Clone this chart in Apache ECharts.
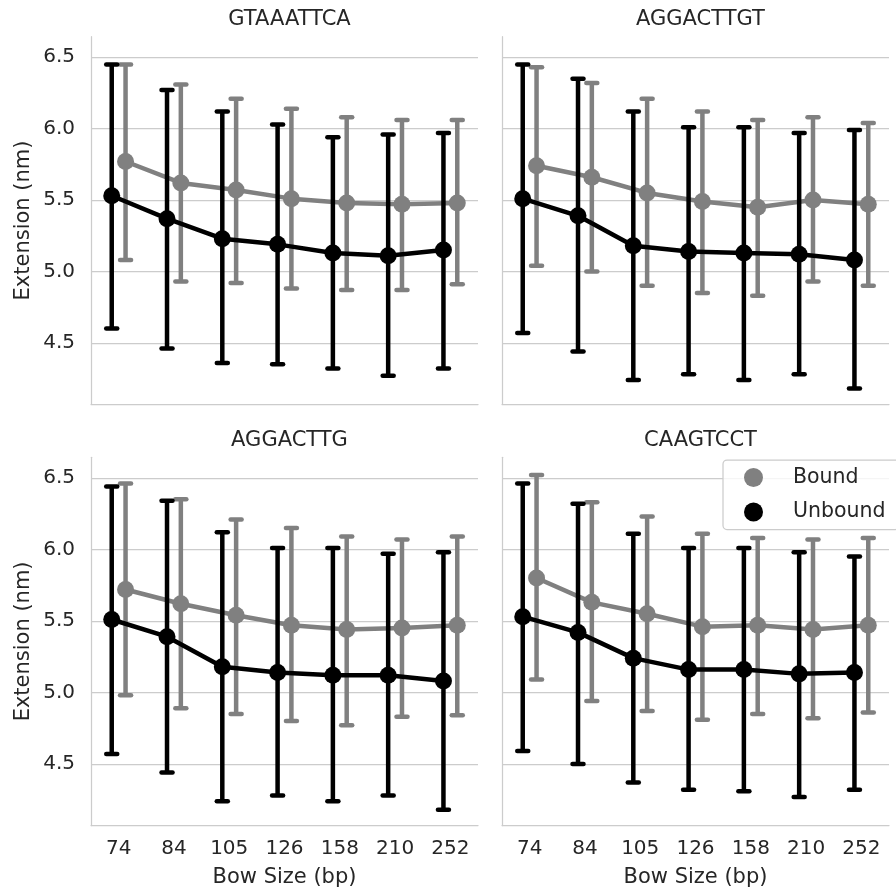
<!DOCTYPE html>
<html>
<head>
<meta charset="utf-8">
<script src="https://cdn.jsdelivr.net/npm/echarts@6/dist/echarts.min.js"></script>
<style>
html,body{margin:0;padding:0;background:#fff;}
#chart{width:896px;height:895px;}
</style>
</head>
<body>
<div id="chart"></div>
<script>
// ---- Data ----
const categories = ['74', '84', '105', '126', '158', '210', '252'];
const panelTitles = ['GTAAATTCA', 'AGGACTTGT', 'AGGACTTG', 'CAAGTCCT'];
const yTicks = [4.5, 5.0, 5.5, 6.0, 6.5];

// GTAAATTCA
const boundMean1   = [5.77, 5.62, 5.57, 5.51, 5.48, 5.47, 5.48];
const boundLow1    = [5.08, 4.93, 4.92, 4.88, 4.87, 4.87, 4.91];
const boundHigh1   = [6.45, 6.31, 6.21, 6.14, 6.08, 6.06, 6.06];
const unboundMean1 = [5.53, 5.37, 5.23, 5.19, 5.13, 5.11, 5.15];
const unboundLow1  = [4.60, 4.46, 4.36, 4.35, 4.32, 4.27, 4.32];
const unboundHigh1 = [6.45, 6.27, 6.12, 6.03, 5.94, 5.96, 5.97];

// AGGACTTGT
const boundMean2   = [5.74, 5.66, 5.55, 5.49, 5.45, 5.50, 5.47];
const boundLow2    = [5.04, 5.00, 4.90, 4.85, 4.83, 4.93, 4.90];
const boundHigh2   = [6.43, 6.32, 6.21, 6.12, 6.06, 6.08, 6.04];
const unboundMean2 = [5.51, 5.39, 5.18, 5.14, 5.13, 5.12, 5.08];
const unboundLow2  = [4.57, 4.44, 4.24, 4.28, 4.24, 4.28, 4.18];
const unboundHigh2 = [6.45, 6.35, 6.12, 6.01, 6.01, 5.97, 5.99];

// AGGACTTG
const boundMean3   = [5.72, 5.62, 5.54, 5.47, 5.44, 5.45, 5.47];
const boundLow3    = [4.98, 4.89, 4.85, 4.80, 4.77, 4.83, 4.84];
const boundHigh3   = [6.46, 6.35, 6.21, 6.15, 6.09, 6.07, 6.09];
const unboundMean3 = [5.51, 5.39, 5.18, 5.14, 5.12, 5.12, 5.08];
const unboundLow3  = [4.57, 4.44, 4.24, 4.28, 4.24, 4.28, 4.18];
const unboundHigh3 = [6.44, 6.34, 6.12, 6.01, 6.01, 5.97, 5.98];

// CAAGTCCT
const boundMean4   = [5.80, 5.63, 5.55, 5.46, 5.47, 5.44, 5.47];
const boundLow4    = [5.09, 4.94, 4.87, 4.81, 4.85, 4.82, 4.86];
const boundHigh4   = [6.52, 6.33, 6.23, 6.11, 6.08, 6.07, 6.08];
const unboundMean4 = [5.53, 5.42, 5.24, 5.16, 5.16, 5.13, 5.14];
const unboundLow4  = [4.59, 4.50, 4.37, 4.32, 4.31, 4.27, 4.32];
const unboundHigh4 = [6.46, 6.32, 6.11, 6.01, 6.01, 5.98, 5.95];

const panelData = [
  {bm: boundMean1, bl: boundLow1, bh: boundHigh1, um: unboundMean1, ul: unboundLow1, uh: unboundHigh1},
  {bm: boundMean2, bl: boundLow2, bh: boundHigh2, um: unboundMean2, ul: unboundLow2, uh: unboundHigh2},
  {bm: boundMean3, bl: boundLow3, bh: boundHigh3, um: unboundMean3, ul: unboundLow3, uh: unboundHigh3},
  {bm: boundMean4, bl: boundLow4, bh: boundHigh4, um: unboundMean4, ul: unboundLow4, uh: unboundHigh4}
];

// ---- Styling / layout ----
const GRAY = '#808080', BLACK = '#000000', TEXT = '#262626', LINE = '#cccccc';
const FONT = 'DejaVu Sans';
const DODGE = 0.125;
const grids = [
  {left: 91,  top: 36.7,  width: 387, height: 367.6},
  {left: 502, top: 36.7,  width: 387, height: 367.6},
  {left: 91,  top: 457.3, width: 387, height: 368.2},
  {left: 502, top: 457.3, width: 387, height: 368.2}
];

function renderErr(params, api) {
  const x = api.value(0), lo = api.value(1), hi = api.value(2);
  const p1 = api.coord([x, lo]), p2 = api.coord([x, hi]);
  const hw = 5.5;
  const style = {stroke: api.visual('color'), lineWidth: 4.5, lineCap: 'round'};
  return {type: 'group', children: [
    {type: 'line', shape: {x1: p1[0], y1: p1[1], x2: p2[0], y2: p2[1]}, style: Object.assign({}, style, {lineCap: 'butt'})},
    {type: 'line', shape: {x1: p1[0] - hw, y1: p1[1], x2: p1[0] + hw, y2: p1[1]}, style: style},
    {type: 'line', shape: {x1: p2[0] - hw, y1: p2[1], x2: p2[0] + hw, y2: p2[1]}, style: style}
  ]};
}

const xAxes = [], yAxes = [], series = [], titles = [];
grids.forEach((g, k) => {
  const bottomRow = k >= 2, leftCol = (k % 2 === 0);
  xAxes.push({
    type: 'category', gridIndex: k, data: categories, boundaryGap: true,
    axisLine: {show: true, onZero: false, lineStyle: {color: LINE, width: 1.25}},
    axisTick: {show: false},
    axisLabel: {show: bottomRow, color: TEXT, fontSize: 20, fontFamily: FONT, margin: 13},
    splitLine: {show: false},
    name: bottomRow ? 'Bow Size (bp)' : '', nameLocation: 'middle', nameGap: 42,
    nameTextStyle: {color: TEXT, fontSize: 21, fontFamily: FONT}
  });
  xAxes.push({
    type: 'value', gridIndex: k, min: -0.5, max: 6.5, show: false,
    axisLine: {onZero: false},
    splitLine: {show: false}
  });
  yAxes.push({
    type: 'value', gridIndex: k, min: 4.07, max: 6.644,
    axisLine: {show: true, onZero: false, lineStyle: {color: LINE, width: 1.25}},
    axisTick: {show: false, customValues: yTicks},
    axisLabel: {show: leftCol, customValues: yTicks, color: TEXT, fontSize: 20, fontFamily: FONT, margin: 16,
      formatter: v => v.toFixed(1)},
    splitLine: {show: true, lineStyle: {color: LINE, width: 1.25}},
    name: leftCol ? 'Extension (nm)' : '', nameLocation: 'middle', nameGap: 57,
    nameTextStyle: {color: TEXT, fontSize: 21, fontFamily: FONT}
  });
  titles.push({
    text: panelTitles[k], left: g.left + g.width / 2, top: g.top - 32.5, textAlign: 'center',
    textStyle: {color: TEXT, fontSize: 21, fontWeight: 'normal', fontFamily: FONT}
  });

  const d = panelData[k];
  const levels = [
    {name: 'Bound', color: GRAY, mean: d.bm, lo: d.bl, hi: d.bh, off: DODGE, z: 2},
    {name: 'Unbound', color: BLACK, mean: d.um, lo: d.ul, hi: d.uh, off: -DODGE, z: 4}
  ];
  levels.forEach(L => {
    series.push({
      type: 'line', name: L.name, xAxisIndex: 2 * k + 1, yAxisIndex: k,
      data: L.mean.map((v, i) => [i + L.off, v]),
      symbol: 'circle', symbolSize: 17, showSymbol: true,
      itemStyle: {color: L.color}, lineStyle: {color: L.color, width: 4.5},
      z: L.z, animation: false, silent: true
    });
    series.push({
      type: 'custom', name: L.name + ' CI', xAxisIndex: 2 * k + 1, yAxisIndex: k,
      data: L.lo.map((v, i) => [i + L.off, v, L.hi[i]]),
      encode: {x: 0, y: [1, 2]},
      itemStyle: {color: L.color}, renderItem: renderErr,
      z: L.z, animation: false, silent: true
    });
  });
});

const chart = echarts.init(document.getElementById('chart'), null, {renderer: 'canvas'});
chart.setOption({
  backgroundColor: '#ffffff',
  animation: false,
  textStyle: {fontFamily: FONT},
  title: titles,
  grid: grids,
  xAxis: xAxes,
  yAxis: yAxes,
  legend: {
    data: ['Bound', 'Unbound'], orient: 'vertical', left: 723, top: 460,
    icon: 'circle', itemWidth: 19, itemHeight: 19, itemGap: 13.5,
    padding: [7, 14, 7, 21], borderColor: LINE, borderWidth: 1.25, borderRadius: 4,
    backgroundColor: 'rgba(255,255,255,0.8)',
    textStyle: {color: TEXT, fontSize: 20.5, fontFamily: FONT, padding: [0, 0, 0, 25]},
    selectedMode: false, z: 10
  },
  series: series
});
</script>
</body>
</html>
